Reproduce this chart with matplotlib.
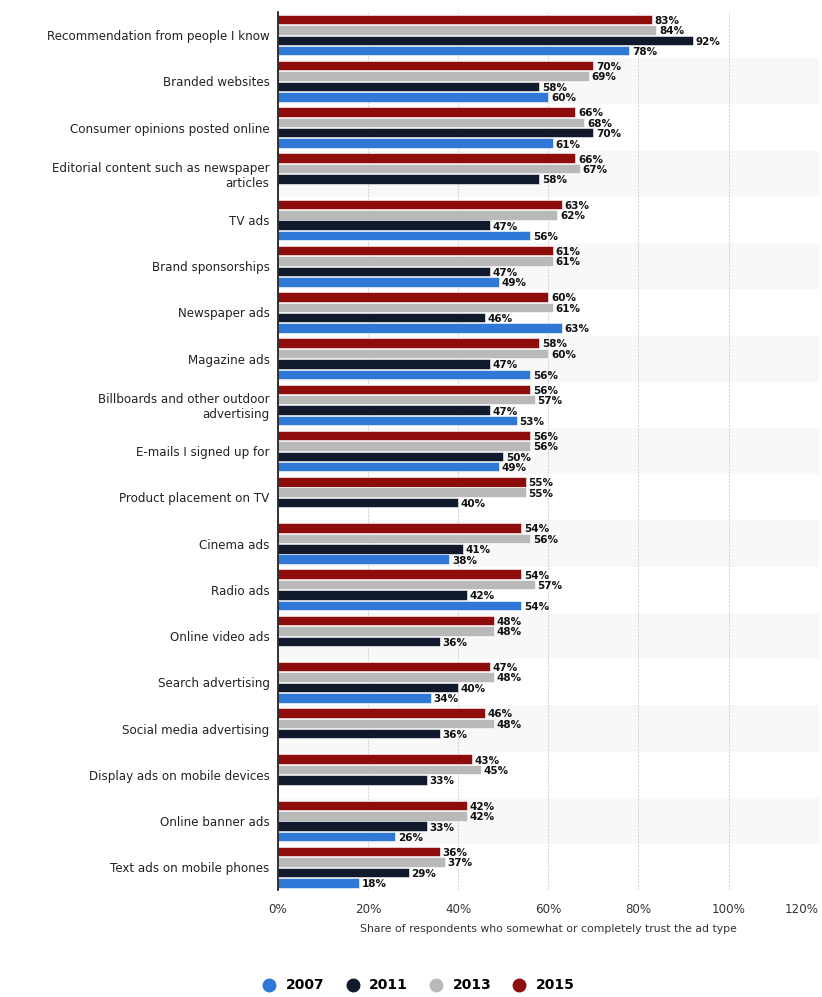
import matplotlib
matplotlib.use('Agg')
import matplotlib.pyplot as plt
import numpy as np

categories = [
    "Recommendation from people I know",
    "Branded websites",
    "Consumer opinions posted online",
    "Editorial content such as newspaper\narticles",
    "TV ads",
    "Brand sponsorships",
    "Newspaper ads",
    "Magazine ads",
    "Billboards and other outdoor\nadvertising",
    "E-mails I signed up for",
    "Product placement on TV",
    "Cinema ads",
    "Radio ads",
    "Online video ads",
    "Search advertising",
    "Social media advertising",
    "Display ads on mobile devices",
    "Online banner ads",
    "Text ads on mobile phones",
]

# None = no value for that year
y2015 = [83, 70, 66, 66, 63, 61, 60, 58, 56, 56, 55, 54, 54, 48, 47, 46, 43, 42, 36]
y2013 = [84, 69, 68, 67, 62, 61, 61, 60, 57, 56, 55, 56, 57, 48, 48, 48, 45, 42, 37]
y2011 = [92, 58, 70, 58, 47, 47, 46, 47, 47, 50, 40, 41, 42, 36, 40, 36, 33, 33, 29]
y2007 = [78, 60, 61, None, 56, 49, 63, 56, 53, 49, None, 38, 54, None, 34, None, None, 26, 18]

years = ["2015", "2013", "2011", "2007"]
series = [y2015, y2013, y2011, y2007]
colors = ["#8e0c0c", "#b9b9b9", "#111a2c", "#2f78d8"]

fig = plt.figure(figsize=(8.22, 9.97), dpi=100)
ax = fig.add_axes([0.338, 0.107, 0.658, 0.881])

n = len(categories)
ypos = np.arange(n)
h = 0.205
step = 0.225

# alternating background bands
for i in range(n):
    if i % 2 == 1:
        ax.axhspan(i - 0.5, i + 0.5, color="#f8f8f8", zorder=0, lw=0)

for k, (vals, col) in enumerate(zip(series, colors)):
    off = (k - 1.5) * step
    for i, v in enumerate(vals):
        if v is None:
            continue
        ax.barh(ypos[i] + off, v, height=h, color=col, zorder=3,
                edgecolor="white", linewidth=0.4)
        ax.text(v + 0.6, ypos[i] + off + 0.03, f"{v}%", va="center", ha="left",
                fontsize=7.5, fontweight="bold", color="#111111", zorder=4)

ax.set_xlim(0, 120)
ax.set_ylim(n - 0.5, -0.5)
ax.set_yticks(ypos)
ax.set_yticklabels(categories, fontsize=8.6, color="#222222")
ax.set_xticks(np.arange(0, 121, 20))
ax.set_xticklabels([f"{t}%" for t in range(0, 121, 20)], fontsize=8.6, color="#333333")
ax.get_xticklabels()[-1].set_horizontalalignment("right")
ax.tick_params(axis="both", length=0, pad=6)
ax.tick_params(axis="x", pad=9)
ax.xaxis.grid(True, color="#d6d6d6", linestyle=(0, (2, 1)), linewidth=0.8, zorder=1)
ax.set_axisbelow(True)
for side in ["top", "right", "bottom"]:
    ax.spines[side].set_visible(False)
ax.spines["left"].set_color("#111111")
ax.spines["left"].set_linewidth(1.2)
ax.spines["left"].set_zorder(5)

ax.set_xlabel("Share of respondents who somewhat or completely trust the ad type",
              fontsize=7.8, color="#333333", labelpad=6)

# legend, 2007 first
handles = []
for yr, col in zip(years[::-1], colors[::-1]):
    handles.append(plt.Line2D([], [], marker="o", linestyle="", markersize=9,
                              markerfacecolor=col, markeredgecolor=col, label=yr))
fig.legend(handles=handles, loc="lower center", bbox_to_anchor=(0.505, -0.008),
           ncol=4, frameon=False, prop={"size": 10, "weight": "bold"},
           handletextpad=0.2, columnspacing=1.0)

fig.savefig("out.png", dpi=100, facecolor="white")
